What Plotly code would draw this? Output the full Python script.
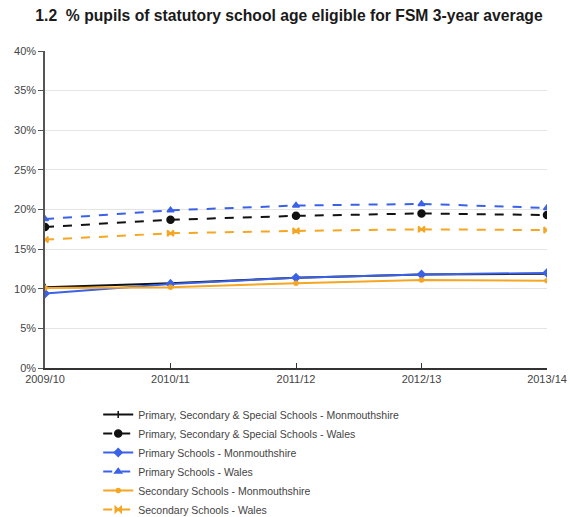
import plotly.graph_objects as go

years = ["2009/10", "2010/11", "2011/12", "2012/13", "2013/14"]

pss_monmouthshire = [10.2, 10.7, 11.4, 11.8, 11.9]
pss_wales = [17.8, 18.7, 19.2, 19.5, 19.3]
primary_monmouthshire = [9.4, 10.6, 11.4, 11.8, 12.0]
primary_wales = [18.8, 19.9, 20.5, 20.7, 20.2]
secondary_monmouthshire = [10.1, 10.2, 10.7, 11.1, 11.0]
secondary_wales = [16.2, 17.0, 17.3, 17.5, 17.4]

series_names = [
    "Primary, Secondary & Special Schools - Monmouthshire",
    "Primary, Secondary & Special Schools - Wales",
    "Primary Schools - Monmouthshire",
    "Primary Schools - Wales",
    "Secondary Schools - Monmouthshire",
    "Secondary Schools - Wales",
]

BLACK = "#111111"
BLUE = "#3b62e6"
ORANGE = "#f5a623"

styles = [
    (pss_monmouthshire, BLACK, "solid", "line-ns-open", 5),
    (pss_wales, BLACK, "dash", "circle", 7),
    (primary_monmouthshire, BLUE, "solid", "diamond", 6),
    (primary_wales, BLUE, "dash", "triangle-up", 6),
    (secondary_monmouthshire, ORANGE, "solid", "circle", 4),
    (secondary_wales, ORANGE, "dash", "bowtie", 6),
]

fig = go.Figure()
for name, (vals, color, dash, symbol, size) in zip(series_names, styles):
    fig.add_trace(go.Scatter(
        x=years, y=vals, name=name, mode="lines+markers",
        line=dict(color=color, width=2, dash=dash),
        marker=dict(symbol=symbol, size=size, color=color,
                    line=dict(color=color, width=1.5)),
    ))

fig.update_layout(
    width=570, height=517,
    margin=dict(l=45, r=23, t=51, b=149, autoexpand=False),
    paper_bgcolor="white", plot_bgcolor="white",
    font=dict(family="Liberation Sans, Arial, sans-serif", color="#444444", size=11),
    title=dict(
        text="1.2  % pupils of statutory school age eligible for FSM 3-year average",
        font=dict(size=15.7, color="#1a1a1a", family="Liberation Sans, Arial, sans-serif", weight="bold"),
        x=0.507, xanchor="center", xref="container",
        y=1 - 16 / 517, yanchor="middle", yref="container",
    ),
    showlegend=True,
    legend=dict(
        orientation="v", x=0.106, xanchor="left", y=-0.101, yanchor="top",
        font=dict(size=10.5, color="#444444"), tracegroupgap=0,
        bgcolor="rgba(0,0,0,0)", itemwidth=30,
    ),
)

fig.update_xaxes(
    type="category", range=[0, 4], showline=True, linecolor="#333333", linewidth=1.5,
    ticks="inside", ticklen=5, tickcolor="#333333", showgrid=False, automargin=False,
    tickfont=dict(size=11, color="#444444"),
)
fig.update_yaxes(
    range=[0, 40], dtick=5, ticksuffix="%", showline=True, linecolor="#555555", linewidth=1.5,
    ticks="outside", ticklen=5, tickcolor="#555555", automargin=False,
    showgrid=True, gridcolor="#e4e4e4", gridwidth=1, zeroline=False,
    tickfont=dict(size=11, color="#444444"),
)

fig.write_html("out.html")
